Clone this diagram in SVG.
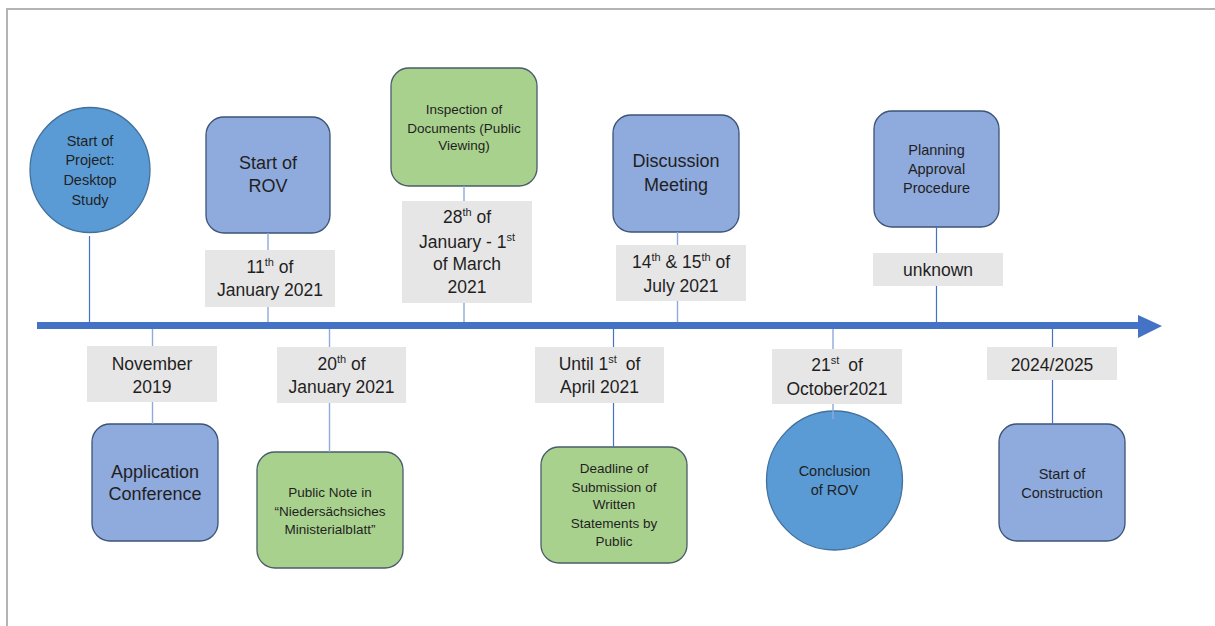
<svg xmlns="http://www.w3.org/2000/svg" width="1215" height="626" viewBox="0 0 1215 626">
  <style>
    text { font-family: "Liberation Sans", Arial, sans-serif; fill: #1f1f1f; text-anchor: middle; }
    .t18 { font-size: 18px; }
    .t145 { font-size: 14.5px; }
    .t135 { font-size: 13.5px; }
    .date { font-size: 17.5px; }
    .sup { font-size: 11px; }
    .blue { fill: #8FAADC; stroke: #3B5476; stroke-width: 1.3; }
    .green { fill: #A9D18E; stroke: #4A5C6A; stroke-width: 1.3; }
    .circ { fill: #5B9BD5; stroke: #41719C; stroke-width: 1.3; }
    .datebox { fill: #E7E6E6; }
    .cd { stroke: #4472C4; stroke-width: 1.2; fill: none; }
    .cl { stroke: #8FAADC; stroke-width: 1.4; fill: none; }
  </style>

  <!-- page frame -->
  <rect x="0" y="0" width="1215" height="626" fill="#FFFFFF"/>
  <rect x="7" y="9" width="1220" height="630" fill="#FFFFFF" stroke="#B4B4B4" stroke-width="2"/>

  <!-- events above the timeline -->
  <g id="start-project">
    <ellipse class="circ" cx="90" cy="170" rx="60" ry="62.5"/>
    <text class="t145" x="90" y="146">Start of</text>
    <text class="t145" x="90" y="165">Project:</text>
    <text class="t145" x="90" y="185">Desktop</text>
    <text class="t145" x="90" y="205">Study</text>
  </g>

  <g id="start-rov">
    <rect class="blue" x="206" y="117" width="124" height="116" rx="18"/>
    <text class="t18" x="268" y="169">Start of</text>
    <text class="t18" x="268" y="192">ROV</text>
  </g>
  <g id="date-11-jan">
    <rect class="datebox" x="205" y="250" width="130" height="57"/>
    <text class="date" x="270" y="273">11<tspan class="sup" dy="-7">th</tspan><tspan dy="7"> of</tspan></text>
    <text class="date" x="270" y="296">January 2021</text>
  </g>

  <g id="inspection">
    <rect class="green" x="391" y="68" width="146" height="118" rx="18"/>
    <text class="t135" x="464" y="114">Inspection of</text>
    <text class="t135" x="464" y="132.5">Documents (Public</text>
    <text class="t135" x="464" y="150">Viewing)</text>
  </g>
  <g id="date-28-jan">
    <rect class="datebox" x="402" y="201" width="130" height="102"/>
    <text class="date" x="467" y="223">28<tspan class="sup" dy="-7">th</tspan><tspan dy="7"> of</tspan></text>
    <text class="date" x="467" y="248">January - 1<tspan class="sup" dy="-7">st</tspan></text>
    <text class="date" x="467" y="270">of March</text>
    <text class="date" x="467" y="293">2021</text>
  </g>

  <g id="discussion">
    <rect class="blue" x="613" y="115" width="126" height="117" rx="18"/>
    <text class="t18" x="676" y="167">Discussion</text>
    <text class="t18" x="676" y="191">Meeting</text>
  </g>
  <g id="date-july">
    <rect class="datebox" x="616" y="245" width="130" height="56"/>
    <text class="date" x="681" y="268">14<tspan class="sup" dy="-7">th</tspan><tspan dy="7"> &amp; 15</tspan><tspan class="sup" dy="-7">th</tspan><tspan dy="7"> of</tspan></text>
    <text class="date" x="681" y="292">July 2021</text>
  </g>

  <g id="planning">
    <rect class="blue" x="874" y="111" width="125" height="116" rx="18"/>
    <text class="t145" x="936.5" y="154.5">Planning</text>
    <text class="t145" x="936.5" y="174">Approval</text>
    <text class="t145" x="936.5" y="193">Procedure</text>
  </g>
  <g id="date-unknown">
    <rect class="datebox" x="873" y="253" width="130" height="33"/>
    <text class="date" x="938" y="276">unknown</text>
  </g>

  <!-- events below the timeline -->
  <g id="date-nov">
    <rect class="datebox" x="87" y="346" width="130" height="56"/>
    <text class="date" x="152" y="369.5">November</text>
    <text class="date" x="152" y="393">2019</text>
  </g>
  <g id="application">
    <rect class="blue" x="92" y="424" width="126" height="117" rx="18"/>
    <text class="t18" x="155" y="478">Application</text>
    <text class="t18" x="155" y="500">Conference</text>
  </g>

  <g id="date-20-jan">
    <rect class="datebox" x="277" y="347" width="129" height="56"/>
    <text class="date" x="341.5" y="369.5">20<tspan class="sup" dy="-7">th</tspan><tspan dy="7"> of</tspan></text>
    <text class="date" x="341.5" y="393">January 2021</text>
  </g>
  <g id="public-note">
    <rect class="green" x="257" y="452" width="146" height="116" rx="18"/>
    <text class="t135" x="330" y="496.5">Public Note in</text>
    <text class="t135" x="330" y="515.5">“Niedersächsiches</text>
    <text class="t135" x="330" y="534">Ministerialblatt”</text>
  </g>

  <g id="date-april">
    <rect class="datebox" x="535" y="347" width="129" height="56"/>
    <text class="date" x="599.5" y="369.5">Until 1<tspan class="sup" dy="-7">st</tspan><tspan dy="7" dx="4"> of</tspan></text>
    <text class="date" x="599.5" y="393">April 2021</text>
  </g>
  <g id="deadline">
    <rect class="green" x="541" y="447" width="146" height="116" rx="18"/>
    <text class="t135" x="614" y="473">Deadline of</text>
    <text class="t135" x="614" y="491.5">Submission of</text>
    <text class="t135" x="614" y="509">Written</text>
    <text class="t135" x="614" y="527.5">Statements by</text>
    <text class="t135" x="614" y="546">Public</text>
  </g>

  <g id="date-october">
    <rect class="datebox" x="772" y="349" width="130" height="55"/>
    <text class="date" x="837" y="371">21<tspan class="sup" dy="-7">st</tspan><tspan dy="7" dx="4"> of</tspan></text>
    <text class="date" x="837" y="395">October2021</text>
  </g>
  <g id="conclusion">
    <ellipse class="circ" cx="834.5" cy="480.5" rx="68" ry="69.5"/>
    <text class="t145" x="834.5" y="476">Conclusion</text>
    <text class="t145" x="834.5" y="495">of ROV</text>
  </g>

  <g id="date-2024">
    <rect class="datebox" x="987" y="347" width="130" height="33"/>
    <text class="date" x="1052" y="370.5">2024/2025</text>
  </g>
  <g id="construction">
    <rect class="blue" x="999" y="424" width="126" height="117" rx="18"/>
    <text class="t145" x="1062" y="478.5">Start of</text>
    <text class="t145" x="1062" y="497.5">Construction</text>
  </g>

  <!-- vertical leader lines from events to the timeline -->
  <g id="connectors">
    <line class="cd" x1="89.5" y1="236" x2="89.5" y2="322"/>
    <line class="cl" x1="268" y1="233" x2="268" y2="250"/>
    <line class="cl" x1="268" y1="307" x2="268" y2="322"/>
    <line class="cl" x1="464" y1="186" x2="464" y2="201"/>
    <line class="cl" x1="464" y1="303" x2="464" y2="322"/>
    <line class="cl" x1="677.5" y1="232" x2="677.5" y2="245"/>
    <line class="cl" x1="677.5" y1="301" x2="677.5" y2="322"/>
    <line class="cd" x1="936.5" y1="227" x2="936.5" y2="253"/>
    <line class="cd" x1="936.5" y1="286" x2="936.5" y2="322"/>
    <line class="cl" x1="152.5" y1="329" x2="152.5" y2="346"/>
    <line class="cl" x1="152.5" y1="402" x2="152.5" y2="424"/>
    <line class="cl" x1="329.5" y1="329" x2="329.5" y2="347"/>
    <line class="cl" x1="329.5" y1="403" x2="329.5" y2="452"/>
    <line class="cd" x1="613.5" y1="329" x2="613.5" y2="347"/>
    <line class="cd" x1="613.5" y1="403" x2="613.5" y2="447"/>
    <line class="cl" x1="833" y1="329" x2="833" y2="349"/>
    <line class="cl" x1="833" y1="404" x2="833" y2="419"/>
    <line class="cd" x1="1052.5" y1="329" x2="1052.5" y2="347"/>
    <line class="cd" x1="1052.5" y1="380" x2="1052.5" y2="424"/>
  </g>

  <!-- timeline arrow -->
  <g id="timeline">
    <rect x="37" y="322" width="1102" height="7" fill="#4472C4"/>
    <polygon points="1138,315 1162,326 1138,338" fill="#4472C4"/>
  </g>
</svg>
